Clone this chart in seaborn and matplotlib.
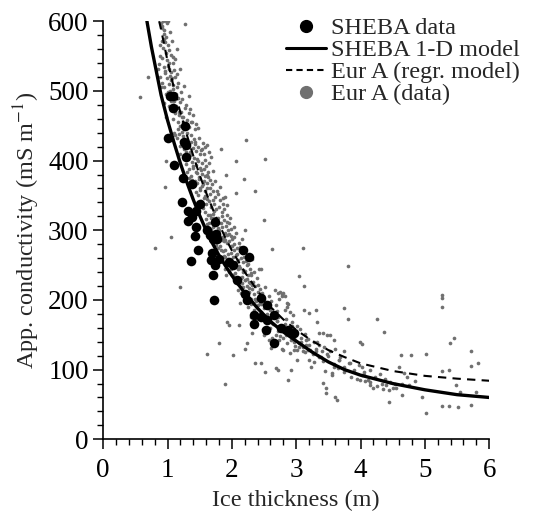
import matplotlib
matplotlib.use('agg')
import numpy as np
import matplotlib.pyplot as plt
from matplotlib.lines import Line2D
from matplotlib.ticker import MultipleLocator
import seaborn as sns

sns.set_theme(style="ticks")
plt.rcParams['font.family'] = ['Liberation Serif', 'DejaVu Serif']
plt.rcParams['mathtext.fontset'] = 'stix'

# SHEBA drill-hole data (ice thickness m, apparent conductivity mS/m)
sheba_x = [1.04, 1.08, 1.09, 1.01, 1.10, 1.27, 1.26, 1.28, 1.29, 1.24, 1.38, 1.22, 1.32, 1.38,
           1.32, 1.45, 1.51, 1.45, 1.42, 1.48, 1.36, 1.62, 1.66, 1.70, 1.74, 1.75, 1.77, 1.69,
           1.68, 1.74, 1.80, 1.71, 1.73, 1.95, 2.01, 2.08, 2.18, 2.26, 2.21, 2.23, 2.34, 2.35,
           2.45, 2.46, 2.54, 2.53, 2.54, 2.65, 2.66, 2.77, 2.87, 2.97]
sheba_y = [493, 493, 475, 433, 394, 450, 427, 405, 422, 375, 366, 341, 327, 319,
           313, 328, 337, 304, 292, 272, 256, 300, 293, 287, 312, 295, 287, 267,
           257, 250, 259, 236, 200, 255, 250, 228, 272, 262, 209, 200, 178, 166,
           203, 176, 171, 157, 193, 178, 138, 159, 157, 152]

# SHEBA 1-D model curve
sheba_model_x = [0.68, 0.75, 0.80, 0.90, 1.00, 1.10, 1.20, 1.30, 1.40, 1.50, 1.60, 1.70, 1.80,
                 1.90, 2.00, 2.20, 2.40, 2.60, 2.80, 3.00, 3.25, 3.50, 3.75, 4.00, 4.50, 5.00,
                 5.50, 6.00]
sheba_model_y = [600, 563, 540, 494, 458, 426, 396, 369, 344, 321, 300, 281, 264,
                 249, 235, 210, 188, 169, 154, 141, 125, 111, 100, 92, 80, 71,
                 64, 60]

# Eur A regression model curve
eur_model_x = [0.87, 0.90, 1.00, 1.10, 1.20, 1.30, 1.40, 1.50, 1.60, 1.70, 1.80, 1.90, 2.00,
               2.20, 2.40, 2.60, 2.80, 3.00, 3.25, 3.50, 3.75, 4.00, 4.50, 5.00, 5.50, 6.00]
eur_model_y = [600, 588, 543, 504, 469, 437, 407, 379, 354, 331, 309, 289, 271,
               240, 213, 190, 172, 157, 141, 128, 118, 109, 98, 91, 87, 84]

# Eur A data points (main cloud and outliers)
eur_x = [
    0.90, 0.93, 0.97, 1.01, 0.92, 0.95, 0.94, 0.98, 0.91, 0.96, 1.00, 0.93, 1.02, 0.97,
    0.89, 1.05, 0.99, 1.03, 0.87, 0.94, 1.08, 1.12, 1.10, 0.85, 1.06, 1.27, 0.96, 1.04,
    0.88, 0.92, 0.95, 0.99, 1.02, 1.05, 1.08, 1.11, 1.14, 0.97, 1.00, 1.04, 1.07, 1.10,
    1.13, 1.17, 1.20, 1.23, 1.02, 1.06, 1.09, 1.12, 1.15, 1.18, 1.21, 1.24, 1.27, 1.30,
    1.33, 1.36, 0.94, 1.16, 1.19, 1.22, 1.25, 1.28, 1.31, 1.34, 1.38, 1.42, 1.45, 0.98, 1.12,
    1.10, 1.14, 1.18, 1.21, 1.24, 1.27, 1.30, 1.33, 1.36, 1.39, 1.42, 1.45, 1.48, 1.51,
    1.54, 1.20, 1.25, 1.29, 1.32, 1.35, 1.38, 1.41, 1.44, 1.47, 1.50, 1.53, 1.57, 1.60,
    1.63, 1.28, 1.34, 1.40, 1.46, 1.52, 1.58, 1.62, 1.66, 1.70, 1.31, 1.37, 1.43, 1.49,
    1.55, 1.61, 1.47, 1.55, 1.58, 1.62, 1.65,
    1.38, 1.42, 1.46, 1.50, 1.54, 1.58, 1.62, 1.66, 1.70, 1.74, 1.78, 1.82, 1.86, 1.44,
    1.48, 1.52, 1.56, 1.60, 1.64, 1.68, 1.72, 1.76, 1.80, 1.84, 1.88, 1.92, 1.55, 1.59,
    1.63, 1.67, 1.71, 1.75, 1.79, 1.83, 1.87, 1.91, 1.95, 1.99, 1.60, 1.65, 1.70, 1.75,
    1.80, 1.85, 1.90, 1.94, 1.98, 1.66, 1.72, 1.78, 1.84, 1.90, 1.96,
    1.72, 1.76, 1.80, 1.84, 1.88, 1.92, 1.96, 2.00, 2.04, 2.08, 2.12, 1.78, 1.82, 1.86,
    1.90, 1.94, 1.98, 2.02, 2.06, 2.10, 2.14, 2.18, 2.22, 1.85, 1.89, 1.93, 1.97, 2.01,
    2.05, 2.09, 2.13, 2.17, 2.21, 2.25, 2.29, 1.90, 1.96, 2.02, 2.08, 2.14, 2.20, 2.26,
    2.32, 2.04, 2.12, 2.24,
    2.00, 2.04, 2.08, 2.12, 2.16, 2.20, 2.24, 2.28, 2.32, 2.36, 2.40, 2.44, 2.10, 2.14,
    2.18, 2.22, 2.26, 2.30, 2.34, 2.38, 2.42, 2.46, 2.50, 2.54, 2.58, 2.20, 2.25, 2.30,
    2.35, 2.40, 2.45, 2.50, 2.55, 2.60, 2.65, 2.70, 2.75, 2.80, 2.85, 2.30, 2.38, 2.46,
    2.54, 2.62, 2.70, 2.78, 2.67, 2.72, 2.78, 2.82, 2.86, 2.90, 2.95,
    2.45, 2.52, 2.58, 2.64, 2.70, 2.76, 2.82, 2.88, 2.94, 3.00, 3.06, 2.50, 2.56, 2.62,
    2.68, 2.74, 2.80, 2.86, 2.92, 2.98, 3.04, 3.10, 3.16, 3.22, 2.60, 2.72, 2.84, 2.96,
    3.08, 3.20, 3.30, 3.40, 3.48, 3.52, 2.66, 2.78, 2.90, 3.02, 3.14, 3.26, 3.38,
    3.35, 3.42, 3.50, 3.58, 3.66, 3.74, 3.82, 3.90, 3.98, 4.06, 4.14, 4.22, 4.30, 4.38,
    4.46, 4.54, 3.45, 3.55, 3.65, 3.75, 3.85, 3.95, 4.05, 4.15, 4.25, 4.35, 4.45, 4.55,
    4.65, 4.75, 4.02, 4.02, 3.99, 4.07, 4.12, 4.19, 4.14, 3.61, 3.63, 3.46, 3.42, 3.46,
    3.56, 3.58, 3.61, 3.58, 3.41, 3.36, 3.33, 3.30, 3.28, 3.23, 3.20, 3.18, 3.12, 3.20,
    3.30, 3.33, 3.15, 3.05, 2.97, 3.02, 4.02, 3.99, 3.74, 3.84, 3.68, 3.66, 3.53, 3.48,
    0.57, 0.70, 0.97, 0.96, 1.06, 0.80, 1.19, 1.61, 1.90, 2.02, 1.80, 2.23, 2.20, 2.46,
    2.36, 2.51, 2.69, 2.72, 2.87, 2.92, 1.95, 1.93, 2.11, 2.31, 2.79, 1.83, 1.91, 2.07,
    2.07, 2.19, 2.22, 2.21, 2.51, 2.50, 2.36, 2.46, 2.62, 3.11, 3.05, 3.12, 3.81, 3.74,
    3.81, 4.26, 4.36, 5.26, 5.26, 5.27, 5.38, 5.26, 5.37, 5.01, 5.26, 5.52, 5.72, 5.39,
    5.46, 5.71, 5.82, 5.72, 5.49, 5.79, 5.01, 4.79, 4.63, 4.60, 4.64, 4.45, 4.50, 4.40,
    4.33, 4.68, 4.72, 5.55, 4.85, 4.95,
]
eur_y = [
    598, 600, 600, 600, 590, 588, 582, 578, 572, 570, 566, 562, 558, 555,
    550, 552, 545, 540, 538, 535, 548, 546, 530, 532, 527, 596, 526, 522,
    520, 512, 505, 518, 510, 515, 508, 520, 505, 496, 490, 500, 493, 486,
    495, 490, 484, 488, 478, 472, 480, 468, 475, 466, 470, 462, 475, 458,
    468, 455, 482, 455, 450, 462, 446, 452, 440, 448, 455, 445, 452, 462, 436,
    440, 432, 438, 428, 435, 425, 430, 420, 426, 418, 424, 414, 420, 410,
    416, 410, 405, 412, 402, 408, 398, 404, 394, 400, 390, 396, 388, 392,
    384, 395, 388, 392, 382, 386, 378, 380, 372, 385, 384, 378, 370, 374,
    366, 368, 447, 425, 420, 422, 412,
    372, 365, 368, 360, 364, 356, 360, 352, 356, 348, 352, 344, 346, 355,
    350, 342, 346, 338, 342, 334, 338, 330, 334, 326, 330, 322, 332, 326,
    322, 318, 324, 314, 318, 310, 314, 306, 310, 302, 316, 310, 305, 312,
    300, 304, 296, 300, 292, 322, 318, 296, 290, 286, 295,
    296, 290, 292, 286, 288, 282, 284, 278, 280, 274, 276, 274, 278, 270,
    272, 266, 268, 262, 264, 258, 260, 254, 256, 258, 262, 252, 256, 248,
    250, 244, 246, 240, 242, 236, 238, 244, 240, 236, 232, 232, 228, 226,
    222, 290, 270, 250,
    236, 232, 228, 232, 224, 228, 220, 224, 216, 220, 212, 216, 214, 210,
    218, 206, 212, 202, 208, 198, 204, 194, 200, 190, 196, 198, 190, 194,
    186, 192, 182, 188, 180, 186, 178, 184, 212, 210, 190, 176, 172, 182,
    168, 176, 170, 205, 214, 210, 208, 205, 196, 182, 178,
    176, 170, 174, 166, 170, 162, 166, 158, 162, 154, 158, 150, 154, 146,
    150, 142, 146, 138, 142, 134, 138, 132, 135, 128, 160, 156, 150, 146,
    140, 136, 130, 126, 150, 150, 138, 130, 124, 128, 125, 122, 118,
    118, 112, 120, 108, 114, 104, 110, 100, 106, 96, 100, 90, 94, 86,
    82, 80, 98, 92, 102, 96, 90, 86, 92, 82, 76, 72, 70, 74,
    80, 78, 104, 92, 85, 83, 85, 73, 78, 61, 56, 66, 81, 73,
    95, 104, 130, 142, 152, 152, 140, 126, 111, 104, 114, 128, 185, 181,
    185, 169, 142, 133, 128, 114, 137, 140, 126, 109, 118, 114, 126, 123,
    491, 520, 400, 362, 291, 274, 219, 122, 80, 121, 138, 138, 130, 109,
    109, 97, 102, 99, 85, 99, 164, 169, 164, 152, 128, 416, 380, 400,
    354, 374, 429, 300, 402, 315, 356, 245, 273, 275, 235, 220, 249, 188,
    173, 173, 154, 207, 203, 190, 100, 98, 48, 37, 48, 46, 49, 138,
    146, 126, 110, 105, 78, 68, 122, 121, 121, 104, 64, 54, 73, 78,
    80, 95, 90, 68, 84, 60,
]

# more Eur A points filling the dense band
eur_band_x = [
    0.91, 0.99, 0.95, 1.04, 0.88, 1.07, 0.92, 1.01, 1.09, 1.15,
    0.96, 1.03, 1.07, 1.14, 1.19, 0.90, 1.01, 1.09, 1.16, 1.21, 1.26, 1.05, 1.13, 1.18,
    1.29, 1.33, 1.35, 1.24, 1.08, 1.40,
    1.17, 1.23, 1.31, 1.37, 1.41, 1.19, 1.26, 1.35, 1.43, 1.49, 1.56, 1.46, 1.52, 1.39,
    1.58, 1.64, 1.68, 1.33, 1.36, 1.53,
    1.44, 1.49, 1.57, 1.63, 1.69, 1.74, 1.51, 1.58, 1.66, 1.71, 1.77, 1.81, 1.86, 1.62,
    1.47, 1.53, 1.73, 1.89, 1.93, 1.69,
    1.61, 1.67, 1.74, 1.79, 1.85, 1.92, 1.97, 2.03, 1.81, 1.87, 1.93, 2.00, 2.06, 2.11,
    1.76, 1.83, 1.99, 2.16, 2.08, 1.71,
    1.87, 1.94, 2.03, 2.07, 2.15, 2.19, 2.25, 2.31, 1.98, 2.05, 2.11, 2.18, 2.28, 2.35,
    2.16, 2.23, 2.30, 2.39, 2.42, 1.91,
    2.09, 2.15, 2.27, 2.33, 2.40, 2.47, 2.52, 2.57, 2.19, 2.36, 2.43, 2.49, 2.61, 2.68,
    2.74, 2.59, 2.66, 2.83, 2.88, 2.13,
    2.55, 2.63, 2.71, 2.79, 2.84, 2.93, 3.01, 3.07, 2.75, 2.89, 3.13, 3.19, 3.27, 2.97,
    3.35, 2.48, 2.57, 2.61, 3.43, 3.10,
]
eur_band_y = [
    593, 597, 575, 584, 566, 571, 547, 536, 540, 560,
    528, 531, 519, 524, 531, 506, 498, 503, 511, 498, 507, 485, 479, 470,
    480, 492, 474, 455, 459, 466,
    446, 441, 447, 437, 431, 421, 417, 413, 427, 433, 409, 402, 415, 389,
    401, 397, 405, 375, 365, 381,
    383, 376, 371, 377, 366, 370, 358, 349, 361, 343, 357, 362, 338, 345,
    339, 333, 327, 348, 336, 317,
    309, 301, 296, 303, 320, 312, 318, 304, 291, 284, 293, 288, 296, 281,
    279, 271, 277, 288, 266, 284,
    263, 259, 271, 254, 268, 262, 251, 259, 244, 239, 248, 243, 245, 240,
    233, 230, 236, 231, 244, 236,
    223, 218, 217, 226, 221, 210, 218, 206, 205, 201, 196, 204, 198, 193,
    201, 187, 180, 186, 194, 196,
    172, 167, 175, 162, 172, 168, 163, 145, 148, 152, 151, 144, 140, 139,
    136, 158, 142, 131, 132, 126,
]

fig, ax = plt.subplots(figsize=(5.46, 5.18), dpi=100)
fig.subplots_adjust(left=0.189, right=0.896, bottom=0.152, top=0.959)

gray = '#707070'
sns.scatterplot(x=eur_x + eur_band_x, y=eur_y + eur_band_y, color=gray, s=7,
                linewidth=0, ax=ax, zorder=2)
sns.lineplot(x=eur_model_x, y=eur_model_y, color='black', linewidth=1.5,
             linestyle=(0, (4, 3)), sort=False, estimator=None, ax=ax, zorder=3)
sns.lineplot(x=sheba_model_x, y=sheba_model_y, color='black', linewidth=2.4,
             sort=False, estimator=None, ax=ax, zorder=3)
sns.scatterplot(x=sheba_x, y=sheba_y, color='black', s=48, linewidth=0, ax=ax, zorder=4)

ax.set_xlim(0, 6)
ax.set_ylim(0, 600)
ax.xaxis.set_major_locator(MultipleLocator(1))
ax.xaxis.set_minor_locator(MultipleLocator(0.2))
ax.yaxis.set_major_locator(MultipleLocator(100))
ax.yaxis.set_minor_locator(MultipleLocator(20))
ax.tick_params(which='major', direction='out', length=7.5, width=1.1, labelsize=19.5,
               colors='black')
ax.tick_params(which='minor', direction='out', length=4, width=1.0, colors='black')
ax.tick_params(axis='x', which='major', pad=6)
ax.tick_params(axis='y', which='major', pad=3)
sns.despine(ax=ax)
for s in ['left', 'bottom']:
    ax.spines[s].set_linewidth(1.2)
    ax.spines[s].set_color('black')

ax.set_xlabel('Ice thickness (m)', fontsize=17.5, labelpad=5)
ax.set_ylabel('App. conductivity (mS m$^{-1}$)', fontsize=17.5, labelpad=4)

handles = [
    Line2D([], [], marker='o', color='black', linestyle='none', markersize=8.5),
    Line2D([], [], color='black', linewidth=2.2),
    Line2D([], [], color='black', linewidth=1.5, linestyle=(0, (3, 2))),
    Line2D([], [], marker='o', color=gray, linestyle='none', markersize=8.5),
]
labels = ['SHEBA data', 'SHEBA 1-D model', 'Eur A (regr. model)', 'Eur A (data)']
fig.legend(handles, labels, loc='upper left', bbox_to_anchor=(286 / 546, 1 - 17 / 518),
           frameon=False, fontsize=17.5, handlelength=1.65, handletextpad=0.2,
           labelspacing=0.0, borderpad=0, borderaxespad=0)

fig.savefig('out.png', dpi=100)
